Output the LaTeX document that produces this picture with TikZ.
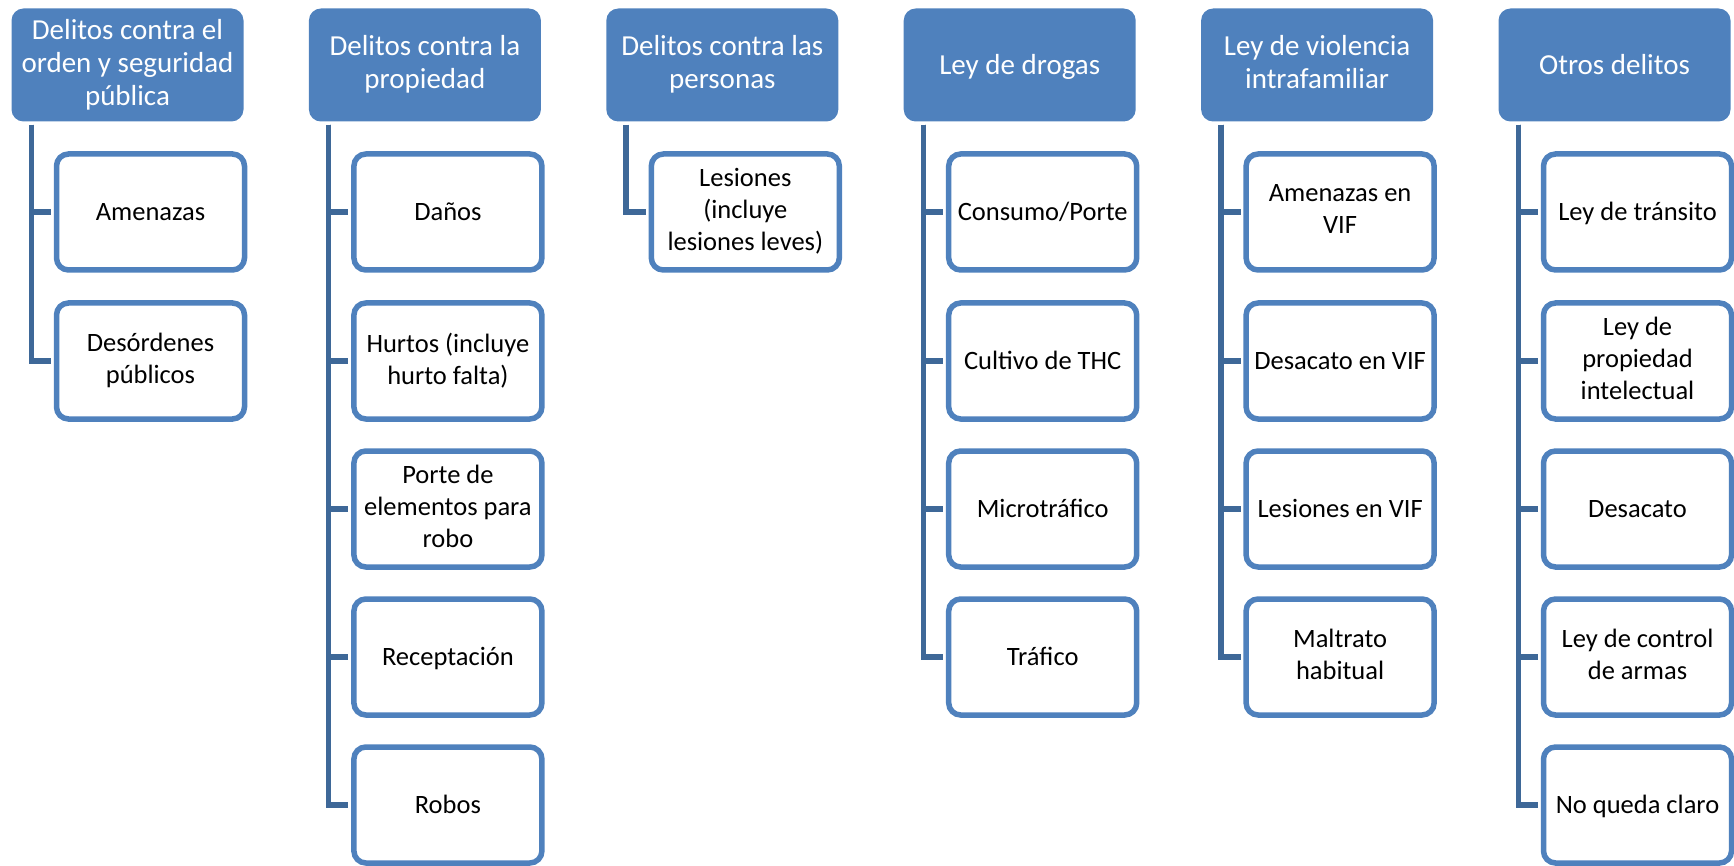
\documentclass[tikz,border=0pt]{standalone}
\usepackage{fontspec}
\setmainfont{Carlito}
\definecolor{hdrblue}{RGB}{79,129,189}
\definecolor{connblue}{RGB}{62,104,152}
\newcommand{\linestrut}{\rule[-0.2em]{0pt}{1.05em}}
\tikzset{
  hdr/.style={rectangle, rounded corners=12pt, fill=hdrblue, draw=none,
    minimum width=232pt, minimum height=113pt, inner sep=0pt, align=center,
    text=white, font=\fontsize{29}{33}\selectfont,
    execute at begin node=\linestrut, execute at end node=\linestrut},
  child/.style={rectangle, rounded corners=12pt, fill=white, draw=hdrblue, line width=5.5pt,
    minimum width=188pt, minimum height=116pt, inner sep=0pt, align=center,
    text=black, font=\fontsize{26.5}{32}\selectfont,
    execute at begin node=\linestrut, execute at end node=\linestrut},
  conn/.style={draw=connblue, line width=5.5pt}
}
\begin{document}
\begin{tikzpicture}[x=1pt,y=-1pt]
\useasboundingbox (0,0) rectangle (1734,866);
% headers
\node[hdr] (h1) at (127.5,65) {Delitos contra el\\orden y seguridad\\pública};
\node[hdr] (h2) at (424.9,65) {Delitos contra la\\propiedad};
\node[hdr] (h3) at (722.3,65) {Delitos contra las\\personas};
\node[hdr] (h4) at (1019.7,65) {Ley de drogas};
\node[hdr] (h5) at (1317.1,65) {Ley de violencia\\intrafamiliar};
\node[hdr] (h6) at (1614.5,65) {Otros delitos};
% column 1
\node[child] (c11) at (150.5,212) {Amenazas};
\node[child] (c12) at (150.5,361) {Desórdenes\\públicos};
% column 2
\node[child] (c21) at (447.9,212) {Daños};
\node[child] (c22) at (447.9,361) {Hurtos (incluye\\hurto falta)};
\node[child] (c23) at (447.9,509) {Porte de\\elementos para\\robo};
\node[child] (c24) at (447.9,657) {Receptación};
\node[child] (c25) at (447.9,805) {Robos};
% column 3
\node[child] (c31) at (745.3,212) {Lesiones\\(incluye\\lesiones leves)};
% column 4
\node[child] (c41) at (1042.7,212) {Consumo/Porte};
\node[child] (c42) at (1042.7,361) {Cultivo de THC};
\node[child] (c43) at (1042.7,509) {Microtráfico};
\node[child] (c44) at (1042.7,657) {Tráfico};
% column 5
\node[child] (c51) at (1340.1,212) {Amenazas en\\VIF};
\node[child] (c52) at (1340.1,361) {Desacato en VIF};
\node[child] (c53) at (1340.1,509) {Lesiones en VIF};
\node[child] (c54) at (1340.1,657) {Maltrato\\habitual};
% column 6
\node[child] (c61) at (1637.5,212) {Ley de tránsito};
\node[child] (c62) at (1637.5,361) {Ley de\\propiedad\\intelectual};
\node[child] (c63) at (1637.5,509) {Desacato};
\node[child] (c64) at (1637.5,657) {Ley de control\\de armas};
\node[child] (c65) at (1637.5,805) {No queda claro};
% connectors
\foreach \h/\cs in {h1/{c11,c12}, h2/{c21,c22,c23,c24,c25}, h3/{c31}, h4/{c41,c42,c43,c44}, h5/{c51,c52,c53,c54}, h6/{c61,c62,c63,c64,c65}}{
  \foreach \c in \cs {
    \draw[conn] ([xshift=20pt,yshift=-3pt]\h.south west) |- ([xshift=-2.75pt]\c.west);
  }
}
\end{tikzpicture}
\end{document}
